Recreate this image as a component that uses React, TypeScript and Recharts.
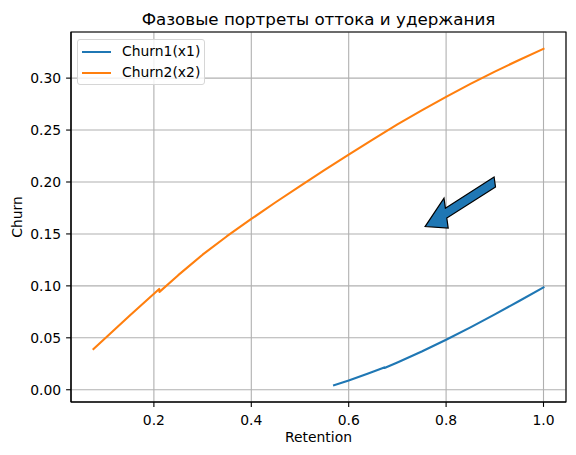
import React from 'react';
import {
  LineChart,
  Line,
  XAxis,
  YAxis,
  CartesianGrid,
  Legend,
  ReferenceArea,
  ReferenceLine,
} from 'recharts';

// Churn1(x1): retention -> churn
const retention1 = [0.57, 0.6, 0.64, 0.673, 0.6735, 0.7, 0.75, 0.8, 0.85, 0.9, 0.95, 1.0];
const churn1 = [0.0044, 0.009, 0.0157, 0.0215, 0.0209, 0.0262, 0.0368, 0.0481, 0.0601, 0.0726, 0.0854, 0.0985];

// Churn2(x2)
const retention2 = [
  0.076, 0.1, 0.15, 0.2109, 0.2115, 0.25, 0.3, 0.35, 0.4, 0.45, 0.5, 0.55, 0.6, 0.65, 0.7, 0.75, 0.8, 0.85, 0.9,
  0.95, 1.0,
];
const churn2 = [
  0.0392, 0.0495, 0.0712, 0.097, 0.0942, 0.1103, 0.13, 0.1478, 0.1644, 0.1805, 0.196, 0.2114, 0.2264, 0.2411,
  0.2555, 0.269, 0.282, 0.2944, 0.3063, 0.3175, 0.3282,
];

const xTicks = [0.2, 0.4, 0.6, 0.8, 1.0];
const yTicks = [0, 0.05, 0.1, 0.15, 0.2, 0.25, 0.3];
const xDomain = [0.0298, 1.0462];
const yDomain = [-0.0118, 0.3444];

// arrow annotation (data coords): tail, tip, shaft width, head width, head length
const arrowTail = { x: 0.9, y: 0.2 };
const arrowTip = { x: 0.7569, y: 0.1571 };
const arrowWidth = 0.01;
const arrowHeadWidth = 0.03;
const arrowHeadLength = 0.045;

const BLUE = '#1f77b4';
const ORANGE = '#ff7f0e';
const FONT = '"DejaVu Sans", sans-serif';

const series1 = retention1.map((x, i) => ({ x, y: churn1[i] }));
const series2 = retention2.map((x, i) => ({ x, y: churn2[i] }));

const ArrowShape = (props: any) => {
  const { x1, y1, x2, y2 } = props;
  const ddx = arrowTip.x - arrowTail.x;
  const ddy = arrowTip.y - arrowTail.y;
  const kx = (x2 - x1) / ddx;
  const ky = (y2 - y1) / ddy;
  const len = Math.hypot(ddx, ddy);
  const ux = ddx / len;
  const uy = ddy / len;
  const px = -uy;
  const py = ux;
  const pt = (a: number, p: number) => {
    const dx = a * ux + p * px;
    const dy = a * uy + p * py;
    return `${x1 + dx * kx},${y1 + dy * ky}`;
  };
  const b = len - arrowHeadLength;
  const pts = [
    pt(0, arrowWidth / 2),
    pt(b, arrowWidth / 2),
    pt(b, arrowHeadWidth / 2),
    pt(len, 0),
    pt(b, -arrowHeadWidth / 2),
    pt(b, -arrowWidth / 2),
    pt(0, -arrowWidth / 2),
  ].join(' ');
  return <polygon points={pts} fill={BLUE} stroke="#000" strokeWidth={1.2} strokeLinejoin="miter" />;
};

const LegendBox = ({ payload }: any) => (
  <div
    style={{
      boxSizing: 'border-box',
      width: 128,
      height: 46,
      padding: '2px 0 0 3.5px',
      border: '1px solid #d6d6d6',
      borderRadius: 3,
      background: 'rgba(255,255,255,0.8)',
      fontFamily: FONT,
      fontSize: 13.9,
      color: '#000',
    }}
  >
    {(payload || []).map((entry: any) => (
      <div key={entry.value} style={{ display: 'flex', alignItems: 'center', height: 20.6 }}>
        <div style={{ width: 29, height: 2.1, background: entry.color, marginRight: 11.5 }} />
        <span style={{ lineHeight: 1, whiteSpace: 'nowrap' }}>{entry.value}</span>
      </div>
    ))}
  </div>
);

const YLabel = (props: any) => {
  const { viewBox } = props;
  const cx = 17;
  const cy = viewBox.y + viewBox.height / 2;
  return (
    <text
      x={cx}
      y={cy}
      transform={`rotate(-90 ${cx} ${cy})`}
      textAnchor="middle"
      dominantBaseline="central"
      fontSize={13.9}
      fontFamily={FONT}
      fill="#000"
    >
      Churn
    </text>
  );
};

const tickStyle = { fill: '#000', fontSize: 13.9, fontFamily: FONT };

export default function App() {
  return (
    <div style={{ position: 'absolute', left: 0, top: 0, width: 576, height: 455, background: '#fff' }}>
      <div
        style={{
          position: 'absolute',
          left: 71,
          width: 495,
          top: 10.5,
          textAlign: 'center',
          fontFamily: FONT,
          fontSize: 16.7,
          lineHeight: 1,
          color: '#000',
          whiteSpace: 'nowrap',
        }}
      >
        Фазовые портреты оттока и удержания
      </div>
      <LineChart width={576} height={455} margin={{ top: 32, right: 10, bottom: 0, left: 0 }}>
        <CartesianGrid stroke="#b0b0b0" strokeWidth={1.1} />
        <XAxis
          dataKey="x"
          type="number"
          domain={xDomain}
          allowDataOverflow
          ticks={xTicks}
          tickFormatter={(v: number) => v.toFixed(1)}
          height={53}
          tick={tickStyle}
          tickSize={4.9}
          tickMargin={8}
          tickLine={{ stroke: '#000', strokeWidth: 1.1 }}
          axisLine={{ stroke: '#000', strokeWidth: 1.1 }}
          label={{ value: 'Retention', position: 'insideBottom', offset: 13.3, fill: '#000', fontSize: 13.9, fontFamily: FONT }}
        />
        <YAxis
          type="number"
          domain={yDomain}
          allowDataOverflow
          ticks={yTicks}
          tickFormatter={(v: number) => v.toFixed(2)}
          width={71}
          tick={tickStyle}
          tickSize={4.9}
          tickMargin={5}
          tickLine={{ stroke: '#000', strokeWidth: 1.1 }}
          axisLine={{ stroke: '#000', strokeWidth: 1.1 }}
          label={<YLabel />}
        />
        <Line
          data={series1}
          dataKey="y"
          name="Churn1(x1)"
          type="linear"
          stroke={BLUE}
          strokeWidth={2.1}
          strokeLinecap="square"
          strokeLinejoin="round"
          dot={false}
          activeDot={false}
          isAnimationActive={false}
        />
        <Line
          data={series2}
          dataKey="y"
          name="Churn2(x2)"
          type="linear"
          stroke={ORANGE}
          strokeWidth={2.1}
          strokeLinecap="square"
          strokeLinejoin="round"
          dot={false}
          activeDot={false}
          isAnimationActive={false}
        />
        <ReferenceLine
          segment={[
            { x: arrowTail.x, y: arrowTail.y },
            { x: arrowTip.x, y: arrowTip.y },
          ]}
          ifOverflow="visible"
          shape={ArrowShape}
        />
        <ReferenceArea
          x1={xDomain[0]}
          x2={xDomain[1]}
          y1={yDomain[0]}
          y2={yDomain[1]}
          fill="none"
          fillOpacity={0}
          stroke="#000"
          strokeWidth={1.1}
          ifOverflow="visible"
        />
        <Legend
          layout="vertical"
          align="center"
          verticalAlign="middle"
          wrapperStyle={{ top: 39, left: 77, width: 'auto', height: 'auto' }}
          content={LegendBox}
        />
      </LineChart>
    </div>
  );
}
